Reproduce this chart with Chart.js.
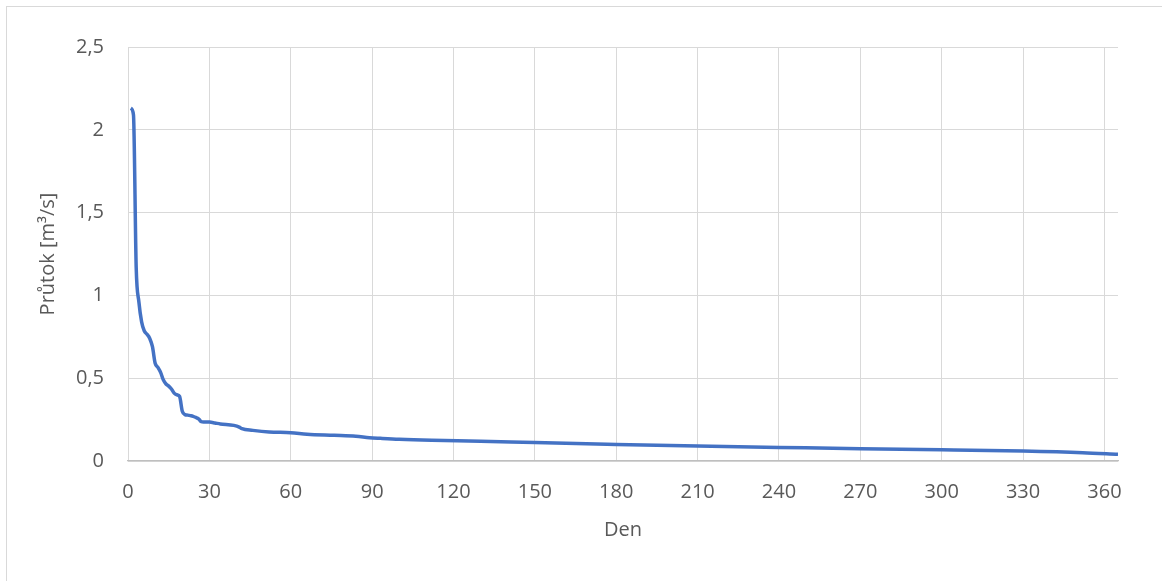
<!DOCTYPE html>
<html lang="cs">
<head>
<meta charset="utf-8">
<title>Čára překročení průtoků</title>
<script src="https://cdn.jsdelivr.net/npm/chart.js@4.4.1/dist/chart.umd.min.js"></script>
<style>
    html, body { margin: 0; padding: 0; background: #fff; overflow: hidden; }
    .wrap { position: relative; width: 1162px; height: 581px; }
    .frame { position: absolute; left: 6px; top: 6px; width: 1200px; height: 620px; border: 1px solid #d9d9d9; box-sizing: border-box; }
    canvas { position: absolute; left: 0; top: 0; }
</style>
</head>
<body>
<div class="wrap">
    <div class="frame"></div>
    <canvas id="flowChart" width="1162" height="581"></canvas>
</div>
<script>
// Seřazené denní průtoky (den v roce, průtok m3/s)
const days = [1, 2, 3, 4, 5, 6, 7, 8, 9, 10, 11, 12, 13, 14, 15, 16, 17, 18, 19, 20,
    21, 22, 23, 24, 25, 26, 27, 28, 30, 32, 34, 39, 41, 42, 46, 52, 60, 66, 76, 84,
    89, 93, 100, 112, 130, 150, 180, 210, 240, 270, 300, 330, 352, 365];
const flows = [2.13, 2.09, 1.17, 0.96, 0.84, 0.785, 0.765, 0.74, 0.69, 0.59, 0.565, 0.535, 0.49, 0.465, 0.452, 0.435, 0.41, 0.40, 0.39, 0.30,
    0.28, 0.277, 0.274, 0.27, 0.263, 0.255, 0.238, 0.236, 0.235, 0.23, 0.224, 0.215, 0.205, 0.195, 0.185, 0.175, 0.171, 0.162, 0.155, 0.149,
    0.141, 0.137, 0.131, 0.125, 0.12, 0.111, 0.10, 0.09, 0.082, 0.074, 0.068, 0.06, 0.05, 0.04];
const xTicks = [0, 30, 60, 90, 120, 150, 180, 210, 240, 270, 300, 330, 360];

const textColor = '#595959';
const gridColor = '#d9d9d9';

Chart.defaults.font.family = '"Open Sans", "Noto Sans", sans-serif';
Chart.defaults.font.size = 20;
Chart.defaults.color = textColor;

new Chart(document.getElementById('flowChart'), {
    type: 'line',
    data: {
        datasets: [{
            data: days.map((d, i) => ({ x: d, y: flows[i] })),
            borderColor: '#4472c4',
            borderWidth: 3.5,
            pointRadius: 0,
            cubicInterpolationMode: 'monotone',
            fill: false
        }]
    },
    options: {
        responsive: false,
        animation: false,
        layout: { padding: { left: 36, top: 47, right: 44, bottom: 39 } },
        plugins: {
            legend: { display: false },
            tooltip: { enabled: false }
        },
        scales: {
            x: {
                type: 'linear',
                min: 0,
                max: 365,
                afterBuildTicks: scale => {
                    scale.ticks = xTicks.map(v => ({ value: v }));
                },
                ticks: { padding: 19, color: textColor, maxRotation: 0 },
                grid: { color: gridColor, drawTicks: false },
                border: { color: '#bfbfbf', width: 1.3 },
                title: { display: true, text: 'Den', color: textColor, padding: { top: -5, bottom: 0 } }
            },
            y: {
                min: 0,
                max: 2.5,
                ticks: {
                    stepSize: 0.5,
                    padding: 24,
                    color: textColor,
                    callback: v => String(v).replace('.', ',')
                },
                grid: { color: gridColor, drawTicks: false },
                border: { display: false },
                title: { display: true, text: 'Průtok [m³/s]', color: textColor, padding: { top: 0, bottom: -8 } }
            }
        }
    }
});
</script>
</body>
</html>
